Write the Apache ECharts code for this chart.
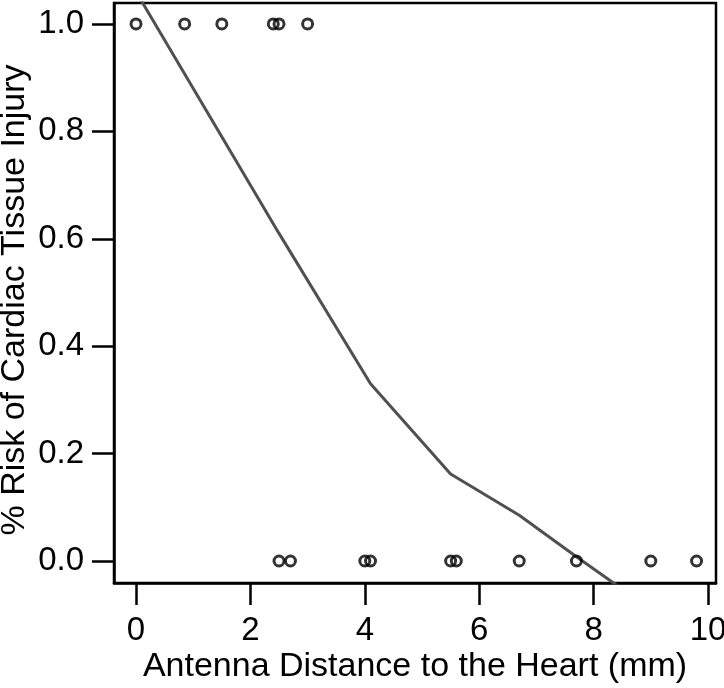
<!DOCTYPE html>
<html>
<head>
<meta charset="utf-8">
<title>Cardiac tissue injury risk</title>
<script src="https://cdn.jsdelivr.net/npm/echarts@6.0.0/dist/echarts.min.js"></script>
<style>
    html, body { margin: 0; padding: 0; background: #fff; }
    #chart { width: 724px; height: 688px; }
</style>
</head>
<body>
<div id="chart"></div>
<script>
    // observed cases: antenna distance (mm) and injury (1 = yes, 0 = no)
    var distMm = [0, 0.85, 1.5, 2.4, 2.5, 3.0, 2.5, 2.7, 4.0, 4.1, 5.5, 5.6, 6.7, 7.7, 9.0, 9.8];
    var injury = [1, 1, 1, 1, 1, 1, 0, 0, 0, 0, 0, 0, 0, 0, 0, 0];
    // fitted risk curve
    var fitX = [0, 2.5, 4.1, 5.5, 6.7, 7.7, 9.0];
    var fitY = [1.06, 0.61, 0.33, 0.162, 0.085, 0.008, -0.09];
    var xTicks = [0, 2, 4, 6, 8, 10];
    var yTicks = [0, 0.2, 0.4, 0.6, 0.8, 1.0];

    var points = distMm.map(function (d, i) { return [d, injury[i]]; });
    var fit = fitX.map(function (d, i) { return [d, fitY[i]]; });

    var font = '"Liberation Sans", Arial, Helvetica, sans-serif';

    var option = {
        animation: false,
        backgroundColor: '#fff',
        grid: {
            left: 114, right: 8, top: 3, bottom: 105,
            outerBoundsMode: 'none',
            containLabel: false,
            show: true, borderColor: '#000', borderWidth: 2.5
        },
        xAxis: {
            type: 'value',
            min: -0.385, max: 10.14,
            name: 'Antenna Distance to the Heart (mm)',
            nameLocation: 'middle',
            nameGap: 67,
            nameMoveOverlap: false,
            nameTextStyle: { fontFamily: font, fontSize: 34, color: '#000' },
            axisLine: { show: true, onZero: false, lineStyle: { color: '#000', width: 2.5 } },
            axisTick: { show: true, length: 22, customValues: xTicks, lineStyle: { color: '#000', width: 2.5 } },
            axisLabel: {
                customValues: xTicks, margin: 31,
                fontFamily: font, fontSize: 33, color: '#000'
            },
            splitLine: { show: false }
        },
        yAxis: {
            type: 'value',
            min: -0.041, max: 1.039,
            name: '% Risk of Cardiac Tissue Injury',
            nameLocation: 'middle',
            nameGap: 82,
            nameMoveOverlap: false,
            nameTextStyle: { fontFamily: font, fontSize: 34, color: '#000', padding: [0, 14, 0, 0] },
            axisLine: { show: true, onZero: false, lineStyle: { color: '#000', width: 2.5 } },
            axisTick: { show: true, length: 22, customValues: yTicks, lineStyle: { color: '#000', width: 2.5 } },
            axisLabel: {
                customValues: yTicks, margin: 30,
                fontFamily: font, fontSize: 33, color: '#000',
                formatter: function (v) { return v.toFixed(1); }
            },
            splitLine: { show: false }
        },
        series: [
            {
                type: 'line',
                data: fit,
                symbol: 'none',
                clip: true,
                lineStyle: { color: '#505050', width: 3 },
                z: 2
            },
            {
                type: 'scatter',
                data: points,
                symbol: 'circle',
                symbolSize: 10,
                itemStyle: { color: 'rgba(0,0,0,0)', borderColor: '#000', borderWidth: 3 },
                z: 3
            }
        ]
    };

    var myecharts = echarts.init(document.getElementById('chart'));
    myecharts.setOption(option);
</script>
</body>
</html>
